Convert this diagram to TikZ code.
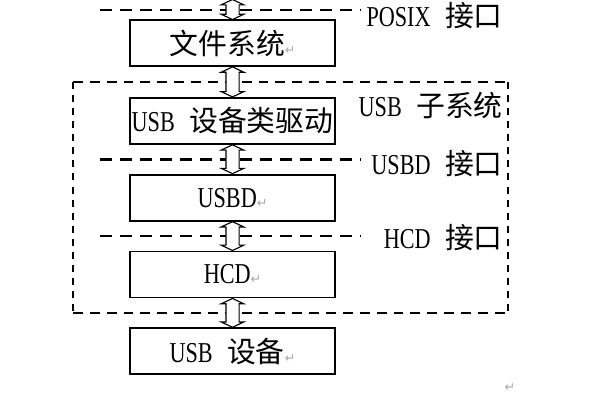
\documentclass[tikz,border=0pt]{standalone}
\usepackage{fontspec}
\setmainfont{Liberation Serif}[FakeStretch=0.77]
\newfontfamily\cjk{Noto Sans CJK SC}
\newfontfamily\symfont{DejaVu Sans}
\usetikzlibrary{shapes.arrows, positioning, calc}
\newcommand\retmark{{\symfont\fontsize{9}{9}\selectfont\textcolor{gray!70}{↵}}}
\tikzset{
  layerbox/.style={
    draw, line width=1.3pt, inner sep=0pt, align=center,
    minimum width=5.125cm, minimum height=1.15cm,
    font=\fontsize{20.5}{24}\selectfont
  },
  ifaceline/.style={line width=2pt, dash pattern=on 8.5pt off 5.7pt},
  subsysline/.style={line width=1.9pt, dash pattern=on 7pt off 5pt},
  subsysside/.style={line width=1.9pt, dash pattern=on 5pt off 4.3pt},
  ifacelabel/.style={
    anchor=east, inner sep=0pt, font=\fontsize{20.5}{24}\selectfont
  },
  updown/.style={
    double arrow, draw, line width=0.8pt, fill=white,
    shape border rotate=90, inner sep=0.15cm,
    double arrow head extend=0.12cm, double arrow tip angle=130
  },
}

\begin{document}
\begin{tikzpicture}
  \useasboundingbox (0,0) rectangle (15,-10);

  % ── layers ──
  \node[layerbox] (fs) at (5.8125,-1.075) {{\cjk 文件系统}\retmark};
  \node[layerbox, below=0.75cm of fs] (cls) {USB\enspace{\cjk 设备类驱动}};
  \node[layerbox, below=0.725cm of cls] (usbd) {USBD\retmark};
  \node[layerbox, below=0.725cm of usbd] (hcd) {HCD\retmark};
  \node[layerbox, below=0.725cm of hcd] (dev) {USB\enspace{\cjk 设备}\retmark};

  % ── interface lines ──
  \coordinate (lx) at (2.5,0);
  \coordinate (rx) at (9,0);
  \coordinate (tx) at (12.575,0);
  \coordinate (iposix) at (0,-0.25);
  \coordinate (iusbd) at ($(cls.south)!0.5!(usbd.north)$);
  \coordinate (ihcd) at ($(usbd.south)!0.5!(hcd.north)$);
  \draw[ifaceline] (iposix -| lx) -- (iposix -| rx);
  \draw[ifaceline] (iusbd -| lx) -- (iusbd -| rx);
  \draw[ifaceline] (ihcd -| lx) -- (ihcd -| rx);

  \node[ifacelabel] (lposix) at (12.575,-0.39) {POSIX\enspace{\cjk 接口}};
  \node[ifacelabel, yshift=-0.1cm] (lusbd) at (iusbd -| tx) {USBD\enspace{\cjk 接口}};
  \node[ifacelabel, yshift=-0.05cm] (lhcd) at (ihcd -| tx) {HCD\enspace{\cjk 接口}};

  % ── USB subsystem frame ──
  \coordinate (subtop) at ($(fs.south)!0.5!(cls.north)$);
  \coordinate (subbot) at ($(hcd.south)!0.5!(dev.north)$);
  \coordinate (sl) at (1.825,0);
  \coordinate (sr) at (12.7,0);
  \draw[subsysline] (subtop -| sl) -- (subtop -| sr);
  \draw[subsysline] (subbot -| sl) -- (subbot -| sr);
  \draw[subsysside] (subtop -| sl) -- (subbot -| sl);
  \draw[subsysside] (subtop -| sr) -- (subbot -| sr);
  \node[ifacelabel] (lsub) at (12.575,-2.63) {USB\enspace{\cjk 子系统}};

  % ── up/down arrows ──
  \coordinate (topedge) at (5.8125,0);
  \node[updown, minimum height=0.5cm] (a0) at ($(topedge)!0.5!(fs.north)$) {};
  \node[updown, minimum height=0.75cm] (a1) at ($(fs.south)!0.5!(cls.north)$) {};
  \node[updown, minimum height=0.72cm] (a2) at (iusbd) {};
  \node[updown, minimum height=0.72cm] (a3) at (ihcd) {};
  \node[updown, minimum height=0.72cm] (a4) at (subbot) {};

  \node (endmark) at (12.75,-9.7) {\retmark};
\end{tikzpicture}
\end{document}
